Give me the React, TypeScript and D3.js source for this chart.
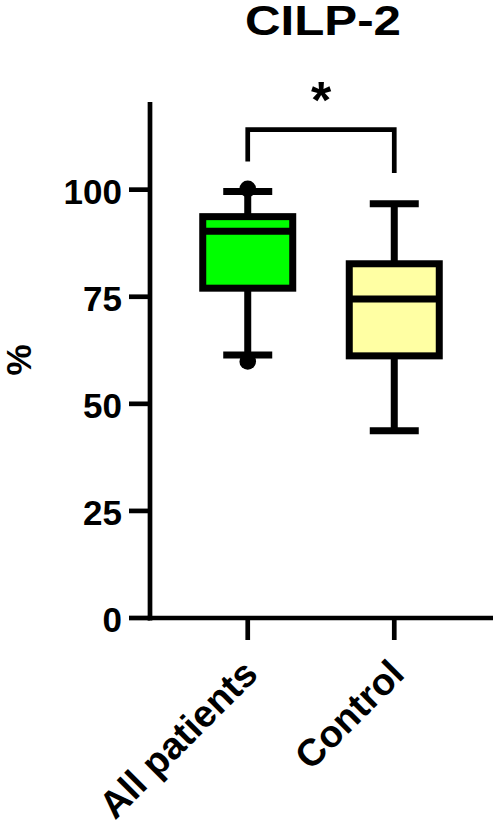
import React from "react";
import * as d3 from "d3";

const categories = ["All patients", "Control"];
const q1 = [77.0, 61.2];
const median = [90.3, 74.5];
const q3 = [93.7, 82.7];
const whiskerLow = [61.4, 43.7];
const whiskerHigh = [99.6, 96.7];
const outliers = [[100.2, 59.9], []];
const fills = ["#00FF00", "#FFFFA3"];
const yTicks = [0, 25, 50, 75, 100];
const bracketY = 114;
const bracketEnds = [106.6, 103.9];
const sigLabel = "*";
const title = "CILP-2";
const yLabel = "%";

const W = 496;
const H = 823;
const FONT = "'Liberation Sans', Arial, Helvetica, sans-serif";

export default function App() {
  const y = d3.scaleLinear().domain([0, 120]).range([618, 104]);
  const x = d3.scalePoint<string>().domain(categories).range([150, 492]).padding(0.667);
  const boxHalf = 45;
  const capHalf = 24.5;
  const sw = 7;

  return (
    <svg width={W} height={H} style={{ position: "absolute", left: 0, top: 0, background: "#fff" }}>
      {/* title */}
      <text x={323} y={35} textAnchor="middle" fontFamily={FONT} fontWeight="bold" fontSize={42}
        textLength={156} lengthAdjust="spacingAndGlyphs">{title}</text>

      {/* y axis */}
      <line x1={150} x2={150} y1={y(0) + 2.5} y2={y(120) - 2} stroke="#000" strokeWidth={4.7} />
      {yTicks.map((t) => (
        <g key={t}>
          <line x1={129} x2={150} y1={y(t)} y2={y(t)} stroke="#000" strokeWidth={4.7} />
          <text x={122} y={y(t) + 14} textAnchor="end" fontFamily={FONT} fontWeight="bold" fontSize={35}>{t}</text>
        </g>
      ))}
      <text transform={`translate(31,360) rotate(-90)`} textAnchor="middle" fontFamily={FONT} fontWeight="bold" fontSize={35}>{yLabel}</text>

      {/* x axis */}
      <line x1={147.7} x2={493} y1={y(0)} y2={y(0)} stroke="#000" strokeWidth={4.7} />
      {categories.map((c) => (
        <g key={c}>
          <line x1={x(c)} x2={x(c)} y1={y(0)} y2={y(0) + 22} stroke="#000" strokeWidth={4.7} />
          <text transform={`translate(${(x(c) as number) + 12},676) rotate(-45)`} textAnchor="end"
            fontFamily={FONT} fontWeight="bold" fontSize={38}>{c}</text>
        </g>
      ))}

      {/* boxes */}
      {categories.map((c, i) => {
        const cx = x(c) as number;
        return (
          <g key={c}>
            <line x1={cx} x2={cx} y1={y(whiskerHigh[i])} y2={y(whiskerLow[i])} stroke="#000" strokeWidth={sw} />
            <line x1={cx - capHalf} x2={cx + capHalf} y1={y(whiskerHigh[i])} y2={y(whiskerHigh[i])} stroke="#000" strokeWidth={sw} />
            <line x1={cx - capHalf} x2={cx + capHalf} y1={y(whiskerLow[i])} y2={y(whiskerLow[i])} stroke="#000" strokeWidth={sw} />
            <rect x={cx - boxHalf} y={y(q3[i])} width={boxHalf * 2} height={y(q1[i]) - y(q3[i])}
              fill={fills[i]} stroke="#000" strokeWidth={sw} />
            <line x1={cx - boxHalf} x2={cx + boxHalf} y1={y(median[i])} y2={y(median[i])} stroke="#000" strokeWidth={sw} />
            {outliers[i].map((o, k) => (
              <circle key={k} cx={cx} cy={y(o)} r={8.3} fill="#000" />
            ))}
          </g>
        );
      })}

      {/* significance bracket */}
      <path
        d={`M${x(categories[0])},${y(bracketEnds[0])}V${y(bracketY)}H${x(categories[1])}V${y(bracketEnds[1])}`}
        fill="none" stroke="#000" strokeWidth={4.7} />
      <text x={((x(categories[0]) as number) + (x(categories[1]) as number)) / 2} y={y(bracketY) - 12}
        textAnchor="middle" fontFamily={FONT} fontWeight="bold" fontSize={52}>{sigLabel}</text>
    </svg>
  );
}
